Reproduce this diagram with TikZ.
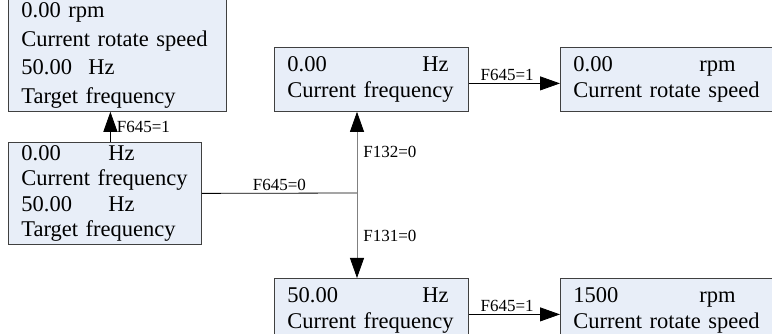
\documentclass[tikz,border=0pt]{standalone}
\usepackage{fontspec}
\setmainfont{Liberation Serif}
\usetikzlibrary{arrows.meta,positioning}
\definecolor{boxfill}{RGB}{232,238,248}
\definecolor{boxline}{RGB}{64,64,64}

\begin{document}
\begin{tikzpicture}[
    x=1pt, y=-1pt,
    >={Triangle[length=20pt,width=14pt,color=black]},
    arr/.style={->, line width=0.8pt, black},
    varr/.style={->, line width=0.8pt, black!50},
    plain/.style={line width=0.8pt, black},
    lcd/.style={
        rectangle, draw=boxline, fill=boxfill, line width=0.8pt,
        anchor=north west, align=left, inner xsep=13pt, inner ysep=0pt,
        font=\fontsize{22.5}{26.5}\selectfont
    },
    tag/.style={font=\fontsize{17}{19}\selectfont, text=black, inner sep=2pt}
]
\useasboundingbox (0,0) rectangle (772,334);

% ---------------- Left column ----------------
\node[lcd, text width=192pt, minimum height=112pt,
      font=\fontsize{22.5}{28.5}\selectfont] (rotset) at (8,-1)
    {0.00 rpm\\Current rotate speed\\\makebox[67pt][l]{50.00}Hz\\Target frequency};
\node[lcd, text width=167pt, minimum height=102pt,
      font=\fontsize{22.5}{25.5}\selectfont] (freqset) at (8,142)
    {\makebox[87pt][l]{0.00}Hz\\Current frequency\\\makebox[87pt][l]{50.00}Hz\\Target frequency};

% ---------------- Middle / right columns ----------------
\node[lcd, text width=168pt, minimum height=64pt] (freqzero) at (274,47)
    {\makebox[135pt][l]{0.00}Hz\\Current frequency};
\node[lcd, text width=192pt, minimum height=64pt] (speedzero) at (560,47)
    {\makebox[126pt][l]{0.00}rpm\\Current rotate speed};
\node[lcd, text width=168pt, minimum height=64pt] (freqrun) at (274,278)
    {\makebox[135pt][l]{50.00}Hz\\Current frequency};
\node[lcd, text width=192pt, minimum height=64pt] (speedrun) at (560,278)
    {\makebox[126pt][l]{1500}rpm\\Current rotate speed};

\coordinate (split) at (357,193);

% ---------------- Connectors ----------------
\draw[arr] ([xshift=5.5pt]freqset.north) -- node[tag, right=4pt] (k1) {F645=1}
    ([xshift=5.5pt]freqset.north |- rotset.south);
\draw[plain] (freqset.east) -- node[tag, above] (k0) {F645=0} (split);
\draw[varr] (split) -- node[tag, right=4pt] (k132) {F132=0} (split |- freqzero.south);
\draw[varr] (split) -- node[tag, right=4pt] (k131) {F131=0} (split |- freqrun.north);
\draw[arr] ([yshift=-4pt]freqzero.east) -- node[tag, above, pos=0.42] (k2) {F645=1}
    ([yshift=-4pt]freqzero.east -| speedzero.west);
\draw[arr] ([yshift=-4pt]freqrun.east) -- node[tag, above, pos=0.42] (k3) {F645=1}
    ([yshift=-4pt]freqrun.east -| speedrun.west);

\end{tikzpicture}
\end{document}
